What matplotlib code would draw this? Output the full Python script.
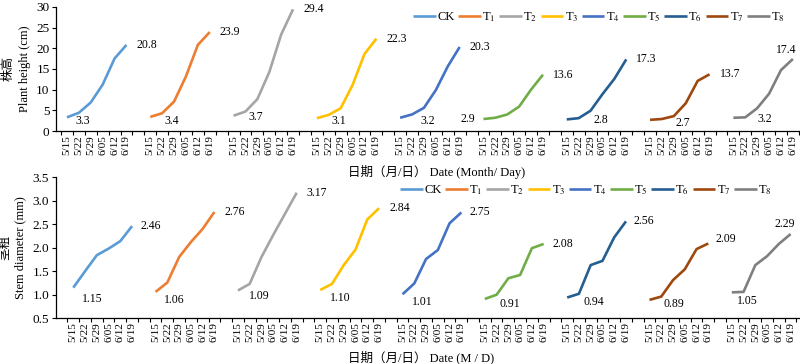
import matplotlib
matplotlib.use("Agg")
import matplotlib.pyplot as plt

plt.rcParams["font.family"] = ["Liberation Serif", "Noto Sans CJK SC"]
plt.rcParams["mathtext.fontset"] = "stix"

DATES = ["5/15", "5/22", "5/29", "6/05", "6/12", "6/19"]
GROUPS = ["CK", "T$_{1}$", "T$_{2}$", "T$_{3}$", "T$_{4}$",
          "T$_{5}$", "T$_{6}$", "T$_{7}$", "T$_{8}$"]
COLORS = ["#5B9BD5", "#ED7D31", "#A5A5A5", "#FFC000", "#4472C4",
          "#70AD47", "#255E91", "#9E480E", "#7F7F7F"]

# plant height (cm)
HEIGHT_CK = [3.3, 4.4, 6.9, 11.2, 17.5, 20.8]
HEIGHT_T1 = [3.4, 4.3, 7.1, 13.2, 20.8, 23.9]
HEIGHT_T2 = [3.7, 4.7, 7.7, 14.2, 23.3, 29.4]
HEIGHT_T3 = [3.1, 3.9, 5.5, 11.1, 18.6, 22.3]
HEIGHT_T4 = [3.2, 4.0, 5.6, 9.9, 15.6, 20.3]
HEIGHT_T5 = [2.9, 3.2, 4.0, 5.9, 10.0, 13.6]
HEIGHT_T6 = [2.8, 3.1, 4.9, 8.9, 12.6, 17.3]
HEIGHT_T7 = [2.7, 2.9, 3.6, 6.7, 12.1, 13.7]
HEIGHT_T8 = [3.2, 3.3, 5.5, 9.0, 14.7, 17.4]

# stem diameter (mm)
DIAM_CK = [1.15, 1.50, 1.84, 1.98, 2.14, 2.46]
DIAM_T1 = [1.06, 1.26, 1.80, 2.12, 2.40, 2.76]
DIAM_T2 = [1.09, 1.23, 1.80, 2.27, 2.72, 3.17]
DIAM_T3 = [1.10, 1.23, 1.63, 1.96, 2.60, 2.84]
DIAM_T4 = [1.01, 1.24, 1.76, 1.95, 2.52, 2.75]
DIAM_T5 = [0.91, 1.00, 1.35, 1.42, 1.99, 2.08]
DIAM_T6 = [0.94, 1.02, 1.63, 1.72, 2.22, 2.56]
DIAM_T7 = [0.89, 0.96, 1.31, 1.54, 1.97, 2.09]
DIAM_T8 = [1.05, 1.06, 1.63, 1.82, 2.08, 2.29]

HEIGHTS = [HEIGHT_CK, HEIGHT_T1, HEIGHT_T2, HEIGHT_T3, HEIGHT_T4,
           HEIGHT_T5, HEIGHT_T6, HEIGHT_T7, HEIGHT_T8]
DIAMS = [DIAM_CK, DIAM_T1, DIAM_T2, DIAM_T3, DIAM_T4,
         DIAM_T5, DIAM_T6, DIAM_T7, DIAM_T8]

# label offsets in pixels: (dx, dy) for first point, (dx, dy, ha) for last point
H_MIN_OFF = [(16, -4), (21, -4), (22, -1), (22, -3), (28, -3),
             (-16, 0), (34, -1), (33, -3), (31, -1)]
H_MAX_OFF = [(10, 0, "left")] * 8 + [(-7, 9, "center")]
D_MIN_OFF = [(19, -11), (19, -8), (21, -6), (20, -8), (20, -8),
             (25, -5), (27, -4), (24, -4), (16, -9)]
D_MAX_OFF = [(8, 0, "left"), (10, 0, "left"), (10, 0, "left"), (10, 0, "left"),
             (8, 0, "left"), (9, 0, "left"), (8, 0, "left"), (7, 4, "left"),
             (-6, 10, "center")]

GAP = 1  # empty category between groups


def draw(ax, series, min_off, max_off, fmt):
    ticks, labels = [], []
    for g, vals in enumerate(series):
        xs = [g * (len(DATES) + GAP) + i for i in range(len(DATES))]
        ax.plot(xs, vals, color=COLORS[g], lw=1.9, label=GROUPS[g],
                solid_capstyle="butt")
        ax.annotate(fmt % vals[0], (xs[0], vals[0]), xytext=min_off[g],
                    textcoords="offset pixels", ha="center", va="center",
                    fontsize=8.5)
        dx, dy, ha = max_off[g]
        ax.annotate(fmt % vals[-1], (xs[-1], vals[-1]), xytext=(dx, dy),
                    textcoords="offset pixels", ha=ha, va="center",
                    fontsize=8.5)
        ticks += xs
        labels += DATES
    ax.set_xticks(ticks)
    ax.set_xticklabels(labels, rotation=90, fontsize=8)
    ax.set_xticks([t - 0.5 for t in range(0, ticks[-1] + 2)], minor=True)
    ax.tick_params(axis="x", which="major", length=0, pad=3)
    ax.tick_params(axis="x", which="minor", length=3, width=0.8, direction="out")
    ax.tick_params(axis="y", length=3, width=0.8, labelsize=9.5, pad=2)
    for s in ("top", "right"):
        ax.spines[s].set_visible(False)
    for s in ("left", "bottom"):
        ax.spines[s].set_linewidth(0.9)


def add_legend(ax, cx, cy):
    ax.legend(loc="center", bbox_to_anchor=(cx / 800, 1 - cy / 364),
              bbox_transform=fig.transFigure, ncol=9, frameon=False,
              fontsize=9, handlelength=1.8, handletextpad=0.1,
              columnspacing=0.3, borderpad=0)


fig = plt.figure(figsize=(8.0, 3.64), dpi=100)

ax1 = fig.add_axes([0.0706, 0.6401, 0.9294, 0.3412])
draw(ax1, HEIGHTS, H_MIN_OFF, H_MAX_OFF, "%.1f")
ax1.set_xlim(-0.88, 61.6)
ax1.set_ylim(0, 30)
ax1.set_yticks(range(0, 31, 5))
ax1.set_ylabel("株高\nPlant height (cm)", fontsize=9, labelpad=4,
               linespacing=1.4)
add_legend(ax1, 599, 17)

ax2 = fig.add_axes([0.07, 0.1258, 0.93, 0.3874])
draw(ax2, DIAMS, D_MIN_OFF, D_MAX_OFF, "%.2f")
ax2.set_xlim(-1.47, 61.8)
ax2.set_ylim(0.5, 3.5)
ax2.set_yticks([0.5, 1.0, 1.5, 2.0, 2.5, 3.0, 3.5])
ax2.set_yticklabels(["%.1f" % v for v in ax2.get_yticks()])
ax2.set_ylabel("茎粗\nStem diameter (mm)", fontsize=9, labelpad=4,
               linespacing=1.4)
add_legend(ax2, 586, 190)

fig.text(348 / 800, 1 - 172 / 364, "日期（月/日） Date (Month/ Day)",
         ha="left", va="center", fontsize=9)
fig.text(348 / 800, 1 - 357 / 364, "日期（月/日） Date (M / D)",
         ha="left", va="center", fontsize=9)

fig.savefig("out.png", dpi=100)
